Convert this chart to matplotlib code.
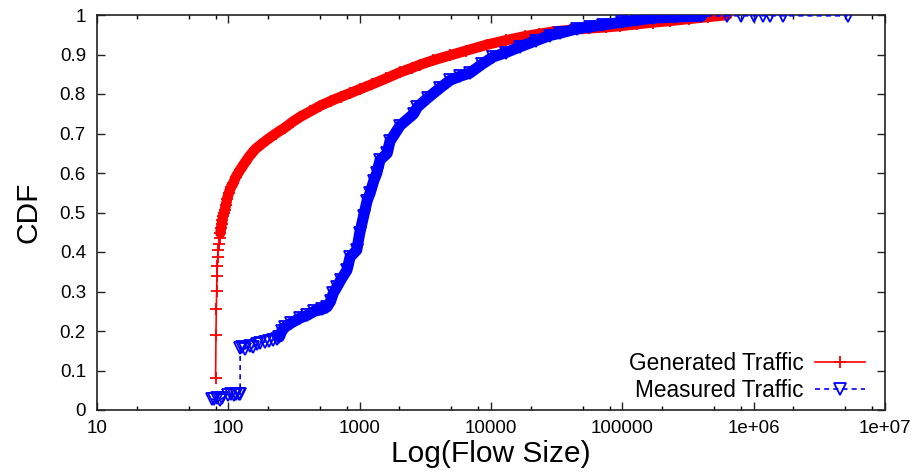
import matplotlib
matplotlib.use("Agg")
import matplotlib.pyplot as plt
import numpy as np
from matplotlib.ticker import FixedLocator, NullFormatter

plt.rcParams['font.family'] = ['Liberation Sans', 'DejaVu Sans']

# ---- data ----
gen_size = [80, 80.5, 81, 81.5, 82, 82.5, 83, 84, 85, 86, 87, 88, 89, 90, 91, 93, 94, 96, 98,
            101, 105, 109, 114, 123, 133, 145, 160, 174, 197, 230, 270, 310, 352, 420, 500,
            600, 720, 845, 1000, 1250, 1600, 2030, 2500, 2880, 3600, 4890, 6500, 9340, 13000,
            18000, 23000, 29700, 40000, 55000, 75000, 96000, 130000, 170000, 230000, 320000,
            450000, 630000]
gen_cdf = [0.082, 0.19, 0.255, 0.301, 0.338, 0.365, 0.387, 0.405, 0.42, 0.435, 0.448, 0.46,
           0.47, 0.48, 0.49, 0.50, 0.506, 0.52, 0.535, 0.55, 0.565, 0.574, 0.59, 0.608, 0.625,
           0.643, 0.66, 0.67, 0.684, 0.70, 0.715, 0.73, 0.742, 0.756, 0.77, 0.782, 0.793,
           0.802, 0.812, 0.825, 0.84, 0.855, 0.866, 0.874, 0.885, 0.898, 0.91, 0.925, 0.936,
           0.946, 0.952, 0.958, 0.962, 0.966, 0.969, 0.972, 0.977, 0.981, 0.985, 0.99,
           0.995, 1.0]

meas_size = [75, 78, 82, 86, 90, 100, 105, 110, 115, 120, 123, 123, 127, 135, 145, 155, 165,
             175, 190, 205, 220, 235, 245, 255, 270, 300, 352, 400, 450, 520, 565, 600, 630,
             670, 720, 800, 845, 950, 1000, 1070, 1140, 1200, 1280, 1350, 1430, 1620, 1700,
             2030, 2580, 2750, 3300, 4080, 4890, 5800, 6900, 8500, 10400, 13000, 16500, 22000,
             28000, 33500, 45000, 57000, 71000, 100000, 130000, 170000, 250000, 400000,
             630000, 800000, 1000000, 1170000, 1340000, 1660000, 5200000]
meas_cdf = [0.027, 0.027, 0.03, 0.025, 0.03, 0.038, 0.04, 0.038, 0.04, 0.04, 0.04, 0.157,
            0.16, 0.155, 0.163, 0.16, 0.168, 0.17, 0.172, 0.175, 0.178, 0.18, 0.185, 0.2,
            0.21, 0.22, 0.233, 0.24, 0.25, 0.255, 0.261, 0.275, 0.296, 0.311, 0.33, 0.354,
            0.387, 0.405, 0.447, 0.49, 0.53, 0.549, 0.58, 0.6, 0.633, 0.65, 0.68, 0.72, 0.75,
            0.767, 0.79, 0.815, 0.835, 0.845, 0.853, 0.875, 0.894, 0.905, 0.919, 0.935,
            0.948, 0.954, 0.965, 0.97, 0.975, 0.982, 0.987, 0.992, 0.995, 0.997, 0.998,
            0.998, 0.998, 0.998, 0.998, 0.998, 0.998]

xtick_vals = [10, 100, 1000, 10000, 100000, 1000000, 10000000]
xtick_labels = ["10", "100", "1000", "10000", "100000", "1e+06", "1e+07"]
ytick_vals = [0, 0.1, 0.2, 0.3, 0.4, 0.5, 0.6, 0.7, 0.8, 0.9, 1]
ytick_labels = ["0", "0.1", "0.2", "0.3", "0.4", "0.5", "0.6", "0.7", "0.8", "0.9", "1"]

RED = "#ff0000"
BLUE = "#0000ff"

fig = plt.figure(figsize=(9.16, 4.72), dpi=100)
ax = fig.add_axes([97/916, 1-410/472, (885-97)/916, (410-15)/472])

gs = np.array(gen_size, dtype=float)
gc = np.array(gen_cdf)
ms_ = np.array(meas_size, dtype=float)
mc = np.array(meas_cdf)

# dense bands (the reference's markers overlap into solid bands)
gband = gc >= 0.44
ax.plot(gs[gband], gc[gband], color=RED, lw=7.5, solid_capstyle='round', zorder=2)
mband = (ms_ >= 240) & (ms_ <= 450000)
ax.plot(ms_[mband], mc[mband], color=BLUE, lw=8, solid_capstyle='round', zorder=4)

ax.plot(gs, gc, color=RED, lw=1.2, marker='+', ms=9, mew=1.3, zorder=3,
        label="Generated Traffic")
ax.plot(ms_, mc, color=BLUE, lw=1.2, ls=(0, (3, 2.5)), marker='v', ms=8, mew=1.3,
        mfc='none', mec=BLUE, zorder=5, label="Measured Traffic")

ax.set_xscale('log')
ax.set_xlim(10, 1e7)
ax.set_ylim(0, 1)

ax.xaxis.set_major_locator(FixedLocator(xtick_vals))
ax.set_xticklabels(xtick_labels)
minors = [m * d for d in [10, 100, 1000, 10000, 100000, 1000000] for m in (2, 5, 8)]
ax.xaxis.set_minor_locator(FixedLocator(minors))
ax.xaxis.set_minor_formatter(NullFormatter())
ax.set_yticks(ytick_vals)
ax.set_yticklabels(ytick_labels)

ax.tick_params(axis='both', which='major', direction='in', length=6, width=1,
               labelsize=13.5, top=True, right=True, colors='#222222', labelcolor='black')
ax.tick_params(axis='x', which='major', pad=7)
ax.tick_params(axis='y', which='major', pad=8)
ax.tick_params(axis='x', which='minor', direction='in', length=3, width=1, top=True)
for s in ax.spines.values():
    s.set_linewidth(1.2)
    s.set_color('#222222')

ax.set_xlabel("Log(Flow Size)", fontsize=21.5, labelpad=2)
ax.set_ylabel("CDF", fontsize=21.5, labelpad=12)

leg = ax.legend(loc='lower right', bbox_to_anchor=((865-97)/788, 0.02), frameon=False,
                markerfirst=False, numpoints=1, fontsize=16.3, handlelength=2.2,
                handletextpad=0.5, labelspacing=0.2, borderpad=0, borderaxespad=0)
for t in leg.get_texts():
    t.set_ha('right')
leg._legend_box.align = "right"
for h in leg.legend_handles:
    h.set_linewidth(1.2)

fig.savefig("out.png", dpi=100)
